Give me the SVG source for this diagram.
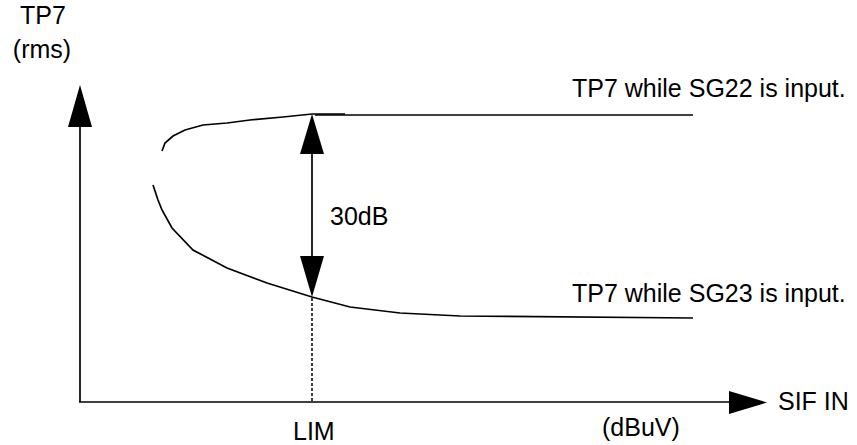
<svg xmlns="http://www.w3.org/2000/svg" width="857" height="445" viewBox="0 0 857 445">
<style>
.t{font-family:"Liberation Sans",Arial,sans-serif;font-size:25px;fill:#000}
.ln{fill:none;stroke:#000;stroke-width:1.7}
.ah{fill:#000;stroke:none}
</style>
<rect width="857" height="445" fill="#fff"/>
<g id="axes">
<line class="ln" x1="80" y1="120" x2="80" y2="402"/>
<polygon class="ah" points="80,85 92,127 68,127"/>
<line class="ln" x1="79" y1="402" x2="732" y2="402"/>
<polygon class="ah" points="767,402.5 729,391 729,414"/>
</g>
<g id="curves">
<polyline class="ln" points="162,151 165,143 173,136 185,130 203,125 227,123 250,120 283,117 312,114 345,114"/>
<polyline class="ln" points="315,115 693,115"/>
<polyline class="ln" points="153,185 158,200 162,210 172,228 193,250 227,268 267,283 312,297 350,307 400,313 460,316 693,318"/>
</g>
<g id="connectors">
<line class="ln" x1="312" y1="150" x2="312" y2="260"/>
<polygon class="ah" points="312,114 324,154 300,154"/>
<polygon class="ah" points="312,297 324,256 300,256"/>
<line x1="312" y1="298" x2="312" y2="402" stroke="#000" stroke-width="1.5" stroke-dasharray="3,2"/>
</g>
<g id="labels">
<text class="t" x="43" y="24" text-anchor="middle">TP7</text>
<text class="t" x="42" y="58" text-anchor="middle">(rms)</text>
<text class="t" x="330" y="225">30dB</text>
<text class="t" x="572" y="97">TP7 while SG22 is input.</text>
<text class="t" x="572" y="302">TP7 while SG23 is input.</text>
<text class="t" x="778" y="410">SIF IN</text>
<text class="t" x="602" y="436">(dBuV)</text>
<text class="t" x="293" y="440">LIM</text>
</g>
</svg>
